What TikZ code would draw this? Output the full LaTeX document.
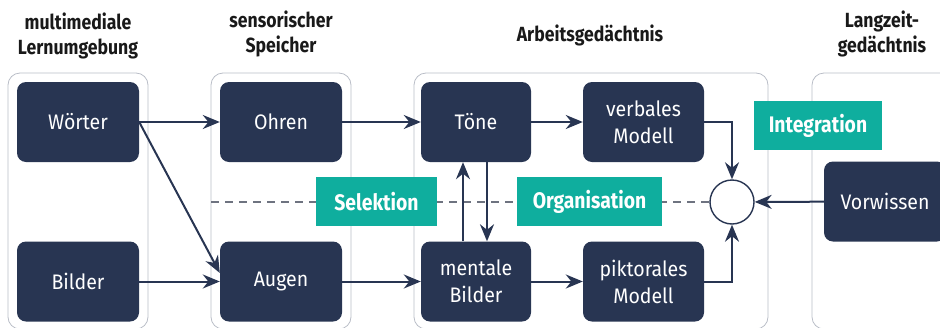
\documentclass[tikz,border=0pt]{standalone}
\usepackage{fontspec}
\setmainfont{Fira Sans}[FakeStretch=0.93, BoldFeatures={FakeStretch=0.86}]
\usetikzlibrary{arrows.meta,positioning}
\definecolor{navy}{HTML}{283552}
\definecolor{tealbox}{HTML}{0FAE9E}
\definecolor{framegray}{HTML}{B9BDC7}
\definecolor{dashgray}{HTML}{6E7380}

\begin{document}
\begin{tikzpicture}[x=1pt,y=-1pt,
    region/.style={draw=framegray, line width=0.8pt, rounded corners=12pt},
    unit/.style={fill=navy, text=white, rounded corners=9pt, minimum width=122pt,
                 minimum height=80pt, inner sep=0pt, align=center,
                 font=\fontsize{21}{27}\selectfont},
    tag/.style={fill=tealbox, text=white, minimum height=49pt, inner sep=0pt,
                font=\fontsize{22.5}{26}\selectfont\bfseries},
    heading/.style={align=center, text=black!90, font=\fontsize{20.5}{25}\selectfont\bfseries},
    arr/.style={draw=navy, line width=2pt, -{Stealth[length=17pt,width=14pt,inset=5.5pt]}}]
    \useasboundingbox (0,0) rectangle (940,327);
    \clip (0,0) rectangle (940,327);
    % bereiche
    \draw[region] (8,73) rectangle (148,329);
    \draw[region] (211,73) rectangle (351,329);
    \draw[region] (414,73) rectangle (768,329);
    \draw[region] (812,73) rectangle (980,329);
    % ueberschriften
    \node[heading] (h1) at (78,36) {multimediale\\Lernumgebung};
    \node[heading] (h2) at (281,34) {sensorischer\\Speicher};
    \node[heading] (h3) at (590,35) {Arbeitsgedächtnis};
    \node[heading] (h4) at (882,34) {Langzeit-\\gedächtnis};
    % bausteine
    \node[unit] (woerter) at (78,122) {Wörter};
    \node[unit] (bilder) at (78,281.5) {Bilder};
    \node[unit] (ohren) at (281,122) {Ohren};
    \node[unit] (augen) at (281,281.5) {Augen};
    \node[unit, minimum width=110pt] (toene) at (476,122) {Töne};
    \node[unit, minimum width=110pt] (mental) at (476,281.5) {mentale\\Bilder};
    \node[unit, minimum width=121pt] (verbal) at (643.5,122) {verbales\\Modell};
    \node[unit, minimum width=121pt] (piktoral) at (643.5,281.5) {piktorales\\Modell};
    \node[unit] (vorwissen) at (885,201.5) {Vorwissen};
    \node[circle, draw=navy, fill=white, line width=1.4pt, minimum size=44pt, inner sep=0pt] (merge) at (732,202) {};
    % gestrichelte linie
    \coordinate (dashstart) at (211,202);
    \draw[dashgray, line width=1.1pt, dash pattern=on 8pt off 6pt] (dashstart) -- (merge.west);
    % prozesse
    \node[tag, minimum width=121pt] (selektion) at (376.5,201.5) {Selektion};
    \node[tag, minimum width=145pt] (organisation) at (589.5,201.5) {Organisation};
    \node[tag, minimum width=128pt] (integration) at (818,125.5) {Integration};
    % pfeile
    \draw[arr] (woerter) -- (ohren);
    \draw[arr] (woerter.east) -- ([yshift=8.5pt]augen.west);
    \draw[arr] (bilder) -- (augen);
    \draw[arr] (ohren) -- (toene);
    \draw[arr] (augen) -- (mental);
    \draw[arr] (toene) -- (verbal);
    \draw[arr] (mental) -- (piktoral);
    \draw[arr] ([xshift=11pt]toene.south) -- ([xshift=11pt]mental.north);
    \draw[arr] ([xshift=-13pt]mental.north) -- ([xshift=-13pt]toene.south);
    \draw[arr] (verbal.east) -| (merge.north);
    \draw[arr] (piktoral.east) -| (merge.south);
    \draw[arr] (vorwissen) -- (merge);
\end{tikzpicture}
\end{document}
